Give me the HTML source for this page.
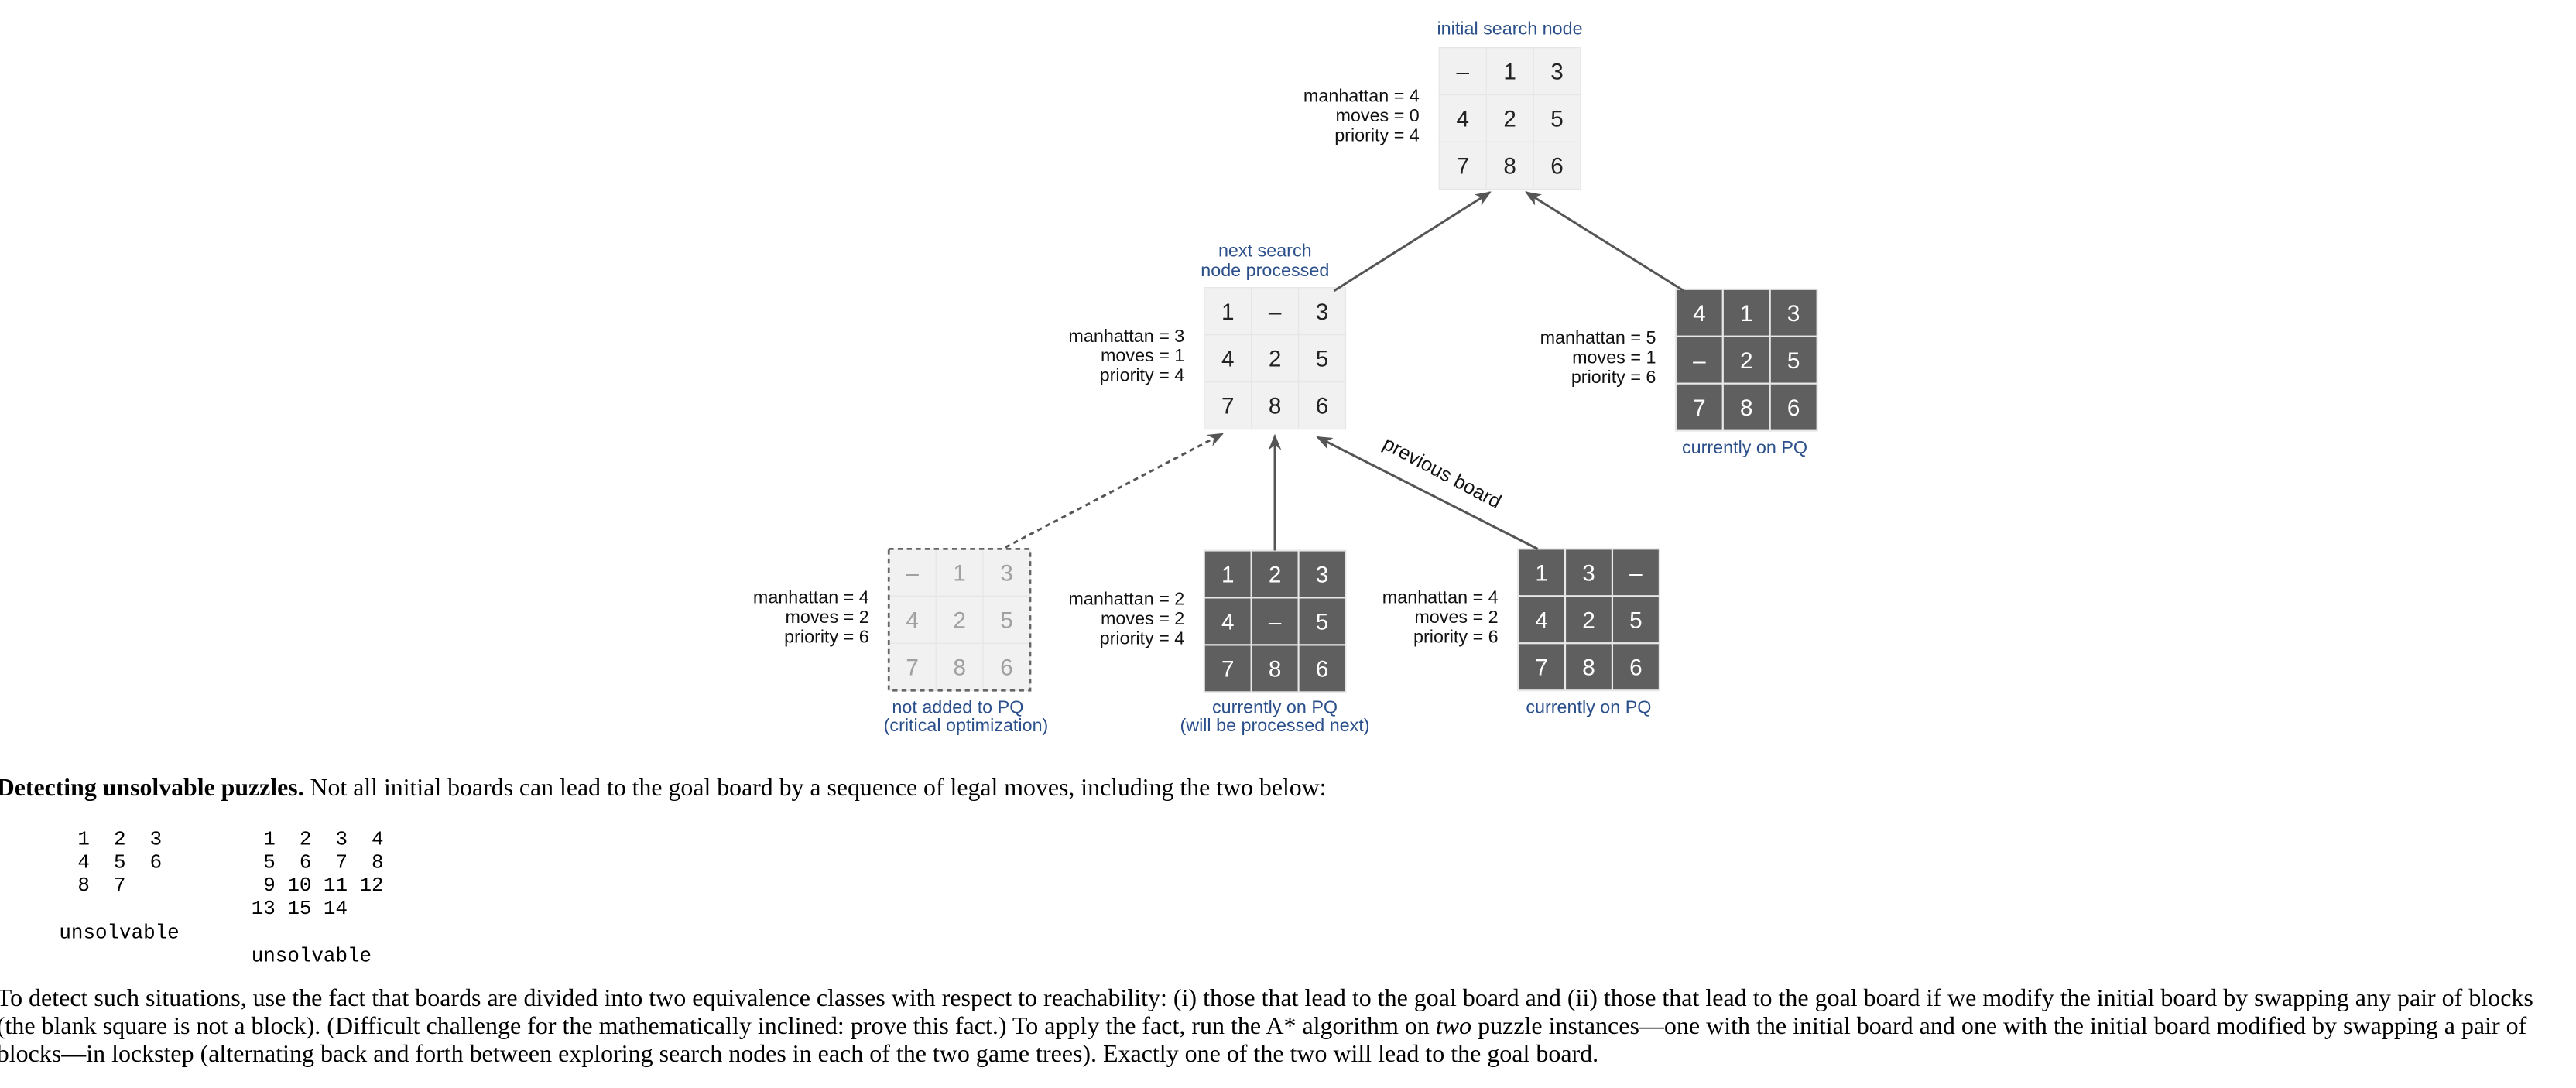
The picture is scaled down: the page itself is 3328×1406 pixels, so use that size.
<!DOCTYPE html>
<html><head><meta charset="utf-8"><style>
html,body{margin:0;padding:0;background:#fff;}
svg{display:block}
.m{font-family:"Liberation Sans",sans-serif;font-size:11px;fill:#111;text-anchor:end}
.c{font-family:"Liberation Sans",sans-serif;font-size:11px;fill:#2a4f8a;text-anchor:middle}
.s{font-family:"Liberation Serif",serif;font-size:15px;fill:#000}
.mono{font-family:"Liberation Mono",monospace;font-size:12.2px;fill:#000;white-space:pre}
</style></head><body>
<svg id="fig" width="3328" height="1406" viewBox="0 0 1568 662" preserveAspectRatio="none" xmlns="http://www.w3.org/2000/svg">
<defs><marker id="ah" viewBox="0 0 10 10" refX="9" refY="5" markerWidth="7" markerHeight="7" orient="auto"><path d="M0,1 L10,5 L0,9 L3,5 z" fill="#555"/></marker></defs>
<g id="boards"></g>
<g stroke="#555" stroke-width="1.4" fill="none">
<line x1="812" y1="177" x2="907" y2="117" marker-end="url(#ah)"/>
<line x1="1025" y1="177" x2="929" y2="117" marker-end="url(#ah)"/>
<line x1="612" y1="333" x2="744" y2="264" stroke-dasharray="3,2.5" marker-end="url(#ah)"/>
<line x1="776" y1="335" x2="776" y2="265" marker-end="url(#ah)"/>
<line x1="936" y1="334" x2="802" y2="266" marker-end="url(#ah)"/>
</g>
<text transform="translate(876,291) rotate(28)" style="font-family:'Liberation Sans',sans-serif;font-size:12px;fill:#111" text-anchor="middle">previous board</text>
<text class="c" x="919" y="21">initial search node</text>
<text class="c" x="770" y="156">next search</text>
<text class="c" x="770" y="168">node processed</text>
<text class="c" x="1062" y="276">currently on PQ</text>
<text class="c" x="583" y="434">not added to PQ</text>
<text class="c" x="588" y="445">(critical optimization)</text>
<text class="c" x="776" y="434">currently on PQ</text>
<text class="c" x="776" y="445">(will be processed next)</text>
<text class="c" x="967" y="434">currently on PQ</text>
<text class="s" x="-2" y="484"><tspan font-weight="bold">Detecting unsolvable puzzles.</tspan> Not all initial boards can lead to the goal board by a sequence of legal moves, including the two below:</text>
<g>
<text class="mono" x="40" y="514" xml:space="preserve"> 1  2  3</text>
<text class="mono" x="40" y="528" xml:space="preserve"> 4  5  6</text>
<text class="mono" x="40" y="542" xml:space="preserve"> 8  7</text>
<text class="mono" x="36" y="571">unsolvable</text>
</g>
<g>
<text class="mono" x="153" y="514" xml:space="preserve"> 1  2  3  4</text>
<text class="mono" x="153" y="528" xml:space="preserve"> 5  6  7  8</text>
<text class="mono" x="153" y="542" xml:space="preserve"> 9 10 11 12</text>
<text class="mono" x="153" y="556" xml:space="preserve">13 15 14</text>
<text class="mono" x="153" y="585">unsolvable</text>
</g>
<g>
<text class="s" x="-2" y="612" textLength="1544" lengthAdjust="spacingAndGlyphs">To detect such situations, use the fact that boards are divided into two equivalence classes with respect to reachability: (i) those that lead to the goal board and (ii) those that lead to the goal board if we modify the initial board by swapping any pair of blocks</text>
<text class="s" x="-2" y="629" textLength="1540" lengthAdjust="spacingAndGlyphs">(the blank square is not a block). (Difficult challenge for the mathematically inclined: prove this fact.) To apply the fact, run the A* algorithm on <tspan font-style="italic">two</tspan> puzzle instances—one with the initial board and one with the initial board modified by swapping a pair of</text>
<text class="s" x="-2" y="646" textLength="975" lengthAdjust="spacingAndGlyphs">blocks—in lockstep (alternating back and forth between exploring search nodes in each of the two game trees). Exactly one of the two will lead to the goal board.</text>
</g>
</svg>
<script>
const boardNames=["initial-board","next-board","right-board","not-added-board","mid-board","bottom-right-board"];
const boardX=[876,733,1020,541,733,924];
const boardY=[29,175,176,334,335,334];
const boardStyle=["light","light","dark","dashed","dark","dark"];
const boardTiles=[["–","1","3","4","2","5","7","8","6"],["1","–","3","4","2","5","7","8","6"],["4","1","3","–","2","5","7","8","6"],["–","1","3","4","2","5","7","8","6"],["1","2","3","4","–","5","7","8","6"],["1","3","–","4","2","5","7","8","6"]];
const manhattan=[4,3,5,4,2,4];
const moves=[0,1,1,2,2,2];
const NS="http://www.w3.org/2000/svg";
const g=document.getElementById("boards");
const cs=28.7;
for(let b=0;b<6;b++){
  const bg=document.createElementNS(NS,"g");
  
  
  const st=boardStyle[b];
  const fill=st==="dark"?"#5f5f5f":"#f1f1f1";
  const tc=st==="dark"?"#fff":(st==="dashed"?"#a0a0a0":"#222");
  for(let i=0;i<9;i++){
    const r=Math.floor(i/3),c=i%3;
    const rect=document.createElementNS(NS,"rect");
    
    
    rect.setAttribute("x",boardX[b]+c*cs);rect.setAttribute("y",boardY[b]+r*cs);
    rect.setAttribute("width",cs);rect.setAttribute("height",cs);
    rect.setAttribute("fill",fill);
    rect.setAttribute("stroke",st==="dark"?"#e8e8e8":"#e6e6e6");rect.setAttribute("stroke-width",st==="dark"?"1":"0.6");
    bg.appendChild(rect);
    const t=document.createElementNS(NS,"text");
    
    
    t.setAttribute("x",boardX[b]+c*cs+cs/2);t.setAttribute("y",boardY[b]+r*cs+cs/2+5);
    t.setAttribute("text-anchor","middle");t.setAttribute("fill",tc);
    t.setAttribute("style","font-family:'Liberation Sans',sans-serif;font-size:14px");
    t.textContent=boardTiles[b][i];
    bg.appendChild(t);
  }
  if(st==="dashed"){
    const d=document.createElementNS(NS,"rect");
    
    
    d.setAttribute("x",boardX[b]);d.setAttribute("y",boardY[b]);d.setAttribute("width",3*cs);d.setAttribute("height",3*cs);
    d.setAttribute("fill","none");d.setAttribute("stroke","#666");d.setAttribute("stroke-width","1.3");d.setAttribute("stroke-dasharray","3,2.5");
    bg.appendChild(d);
  }
  const lx=boardX[b]-12, ly=boardY[b]+33;
  const lines=["manhattan = "+manhattan[b],"moves = "+moves[b],"priority = "+(manhattan[b]+moves[b])];
  for(let k=0;k<3;k++){
    const t=document.createElementNS(NS,"text");
    
    
    t.setAttribute("class","m");t.setAttribute("x",lx);t.setAttribute("y",ly+k*12);
    t.textContent=lines[k];
    bg.appendChild(t);
  }
  g.appendChild(bg);
}
</script>
</body></html>
